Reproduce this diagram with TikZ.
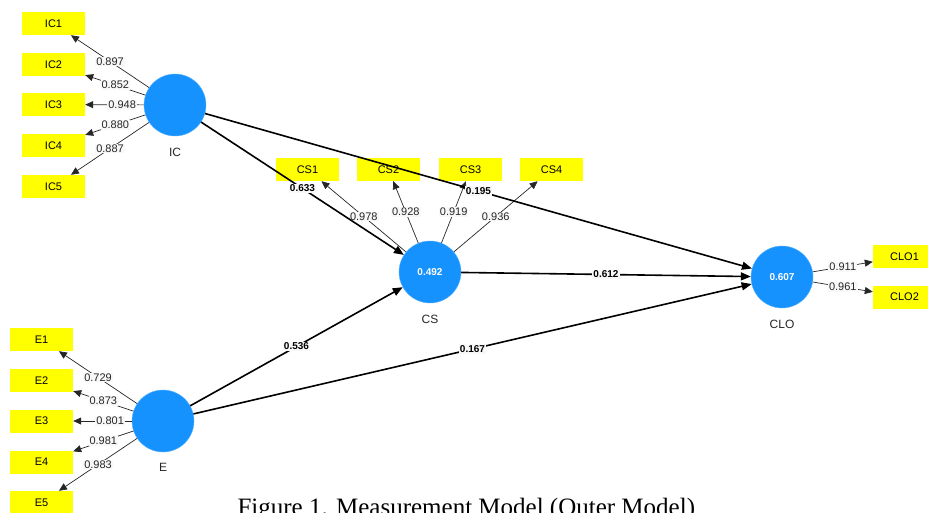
\documentclass[tikz,border=0pt]{standalone}
\usepackage{fontspec}
\setmainfont{Liberation Serif}
\newfontfamily\plsfont{Liberation Sans}
\usetikzlibrary{arrows.meta, positioning}
\definecolor{latentblue}{RGB}{22,146,255}
\definecolor{indyellow}{RGB}{255,255,0}
\definecolor{labelgray}{RGB}{248,248,248}

\begin{document}
\begin{tikzpicture}[x=1pt, y=-1pt,
        latent/.style={circle, fill=latentblue, draw=latentblue!70!white, minimum size=62pt, inner sep=0pt, font=\plsfont\fontsize{10}{12}\selectfont\bfseries, text=white},
        indicator/.style={rectangle, fill=indyellow, minimum width=63pt, minimum height=23pt, inner sep=0pt, font=\plsfont\fontsize{11}{13}\selectfont},
        loadarrow/.style={-{Triangle[length=8pt, width=7pt]}, line width=0.7pt, black!85},
        patharrow/.style={-{Triangle[length=10pt, width=8pt]}, line width=1.6pt, black},
        loadlabel/.style={fill=labelgray, inner sep=1pt, font=\plsfont\fontsize{11}{13}\selectfont, text=black!85},
        pathlabel/.style={fill=labelgray, inner sep=1pt, font=\plsfont\fontsize{10}{12}\selectfont\bfseries},
        lvname/.style={font=\plsfont\fontsize{12}{14}\selectfont, text=black!85}
    ]
    \clip (0,0) rectangle (928,513);

    % Variaveis latentes
    \node[latent] (IC) at (175,105) {};
    \node[latent] (CS) at (430,272) {0.492};
    \node[latent] (CLO) at (782,277) {0.607};
    \node[latent] (E) at (163,421) {};
    \node[lvname, below=8pt of IC] {IC};
    \node[lvname, below=8pt of CS] {CS};
    \node[lvname, below=8pt of CLO] {CLO};
    \node[lvname, below=8pt of E] {E};

    % Indicadores
    \node[indicator] (IC1) at (53.5,23.5) {IC1};
    \node[indicator] (IC2) at (53.5,64.5) {IC2};
    \node[indicator] (IC3) at (53.5,104.5) {IC3};
    \node[indicator] (IC4) at (53.5,145.5) {IC4};
    \node[indicator] (IC5) at (53.5,186.5) {IC5};
    \node[indicator] (CS1) at (307.5,169.5) {CS1};
    \node[indicator] (CS2) at (388.5,169.5) {CS2};
    \node[indicator] (CS3) at (470.5,169.5) {CS3};
    \node[indicator] (CS4) at (551.5,169.5) {CS4};
    \node[indicator] (CLO1) at (904.5,256.5) {CLO1};
    \node[indicator] (CLO2) at (904.5,297) {CLO2};
    \node[indicator] (E1) at (41.5,339.5) {E1};
    \node[indicator] (E2) at (41.5,380.5) {E2};
    \node[indicator] (E3) at (41.5,421) {E3};
    \node[indicator] (E4) at (41.5,462) {E4};
    \node[indicator] (E5) at (41.5,502.5) {E5};

    % Cargas externas
    \draw[loadarrow] (IC) -- node[loadlabel, pos=0.5]{0.897} (IC1);
    \draw[loadarrow] (IC) -- node[loadlabel, pos=0.5]{0.852} (IC2);
    \draw[loadarrow] (IC) -- node[loadlabel, pos=0.37]{0.948} (IC3);
    \draw[loadarrow] (IC) -- node[loadlabel, pos=0.5]{0.880} (IC4);
    \draw[loadarrow] (IC) -- node[loadlabel, pos=0.5]{0.887} (IC5);
    \draw[loadarrow] (CS) -- node[loadlabel, pos=0.5]{0.978} (CS1);
    \draw[loadarrow] (CS) -- node[loadlabel, pos=0.5]{0.928} (CS2);
    \draw[loadarrow] (CS) -- node[loadlabel, pos=0.5]{0.919} (CS3);
    \draw[loadarrow] (CS) -- node[loadlabel, pos=0.5]{0.936} (CS4);
    \draw[loadarrow] (CLO) -- node[loadlabel, pos=0.5]{0.911} (CLO1);
    \draw[loadarrow] (CLO) -- node[loadlabel, pos=0.5]{0.961} (CLO2);
    \draw[loadarrow] (E) -- node[loadlabel, pos=0.5]{0.729} (E1);
    \draw[loadarrow] (E) -- node[loadlabel, pos=0.5]{0.873} (E2);
    \draw[loadarrow] (E) -- node[loadlabel, pos=0.37]{0.801} (E3);
    \draw[loadarrow] (E) -- node[loadlabel, pos=0.5]{0.981} (E4);
    \draw[loadarrow] (E) -- node[loadlabel, pos=0.5]{0.983} (E5);

    % Coeficientes de caminho
    \draw[patharrow] (IC) -- node[pathlabel, midway]{0.633} (CS);
    \draw[patharrow] (IC) -- node[pathlabel, midway]{0.195} (CLO);
    \draw[patharrow] (CS) -- node[pathlabel, midway]{0.612} (CLO);
    \draw[patharrow] (E) -- node[pathlabel, midway]{0.536} (CS);
    \draw[patharrow] (E) -- node[pathlabel, midway]{0.167} (CLO);

    \node[anchor=base west, font=\fontsize{25}{30}\selectfont] (caption) at (234,515) {Figure 1. Measurement Model (Outer Model)};
\end{tikzpicture}
\end{document}
